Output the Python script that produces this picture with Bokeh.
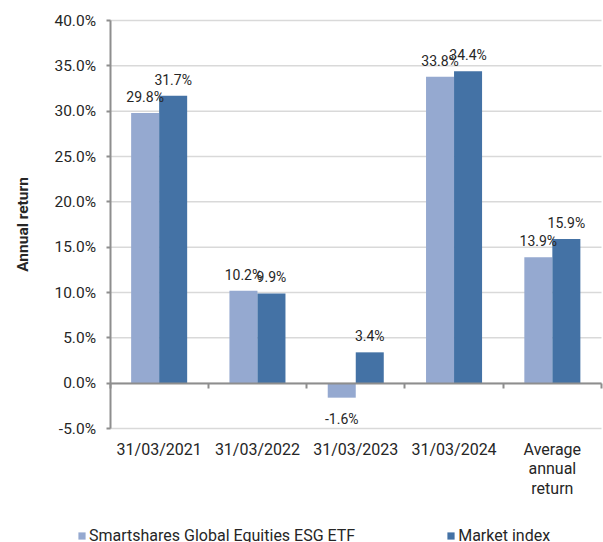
import numpy as np
from bokeh.plotting import figure
from bokeh.models import (ColumnDataSource, Range1d, LinearAxis, FixedTicker,
                          PrintfTickFormatter, Legend, LegendItem)
from bokeh.transform import dodge
from bokeh.core.properties import value
from bokeh.embed import file_html
from bokeh.resources import INLINE

# ---------------- data ----------------
categories = ["31/03/2021", "31/03/2022", "31/03/2023", "31/03/2024", "Average\nannual\nreturn"]
etf_returns = [29.8, 10.2, -1.6, 33.8, 13.9]
index_returns = [31.7, 9.9, 3.4, 34.4, 15.9]
series_names = ["Smartshares Global Equities ESG ETF", "Market index"]
y_ticks = [-5, 0, 5, 10, 15, 20, 25, 30, 35, 40]

# ---------------- style / layout ----------------
FONT = "Roboto"
LIGHT = "#95A9D0"
DARK = "#4472A5"
TXT = "#262626"
AXIS = "#8E8E8E"
GRID = "#D9D9D9"
BAR_W = 0.285
W, H = 603, 542
PL, PR, PT, PB = 109.5, 601, 20, 428   # plotting-area edges in canvas pixels

n = len(categories)
centers = [i + 0.5 for i in range(n)]
cw = (PR - PL) / n
ymin, ymax = y_ticks[0], y_ticks[-1]
ppu = (PB - PT) / (ymax - ymin)

src = ColumnDataSource(dict(x=centers, etf=etf_returns, idx=index_returns))

p = figure(width=W, height=H, output_backend="svg", toolbar_location=None,
           x_range=Range1d(-PL / cw, n + (W - PR) / cw),
           y_range=Range1d(ymin - (H - PB) / ppu, ymax + PT / ppu),
           min_border=0)
p.outline_line_color = None
p.background_fill_color = "white"
p.border_fill_color = "white"
p.grid.visible = False

# horizontal gridlines limited to the plotting area
p.segment(x0=0, x1=n, y0=y_ticks, y1=y_ticks, line_color=GRID, line_width=1.5,
          level="underlay")

r1 = p.vbar(x=dodge("x", -BAR_W / 2, range=p.x_range), top="etf", bottom=0, width=BAR_W,
            source=src, fill_color=LIGHT, line_color=None)
r2 = p.vbar(x=dodge("x", BAR_W / 2, range=p.x_range), top="idx", bottom=0, width=BAR_W,
            source=src, fill_color=DARK, line_color=None)

# data labels
def add_labels(vals, offset):
    pos = [(c, v) for c, v in zip(centers, vals) if v >= 0]
    neg = [(c, v) for c, v in zip(centers, vals) if v < 0]
    for group, yoff in ((pos, -16), (neg, 21)):
        if not group:
            continue
        s = ColumnDataSource(dict(x=[g[0] for g in group], y=[g[1] for g in group],
                                  t=[f"{g[1]:.1f}%" for g in group]))
        p.text(x=dodge("x", offset, range=p.x_range), y="y", text="t", source=s,
               text_font=value(FONT), text_font_size="14px", text_color=TXT,
               text_align="center", text_baseline="alphabetic", y_offset=yoff)

add_labels(etf_returns, -BAR_W / 2)
add_labels(index_returns, BAR_W / 2)

# y axis at the left edge of the plotting area
yax = p.yaxis[0]
yax.fixed_location = 0
yax.bounds = (ymin, ymax)
yax.ticker = FixedTicker(ticks=y_ticks)
yax.formatter = PrintfTickFormatter(format="%.1f%%")
yax.axis_line_color = AXIS
yax.axis_line_width = 2
yax.major_tick_line_color = AXIS
yax.major_tick_line_width = 2
yax.major_tick_out = 4
yax.major_tick_in = 0
yax.minor_tick_line_color = None
yax.major_label_text_font = FONT
yax.major_label_text_font_size = "15.5px"
yax.major_label_text_color = TXT
yax.major_label_standoff = 10
yax.axis_label = "Annual return"
yax.axis_label_text_font = FONT
yax.axis_label_text_font_size = "15.5px"
yax.axis_label_text_font_style = "bold"
yax.axis_label_text_color = TXT
yax.axis_label_standoff = 20

# category labels under the bottom of the plotting area
xax = p.xaxis[0]
xax.fixed_location = ymin
xax.ticker = FixedTicker(ticks=centers)
xax.major_label_overrides = {c: lab for c, lab in zip(centers, categories)}
xax.axis_line_color = None
xax.major_tick_line_color = None
xax.minor_tick_line_color = None
xax.major_label_text_font = FONT
xax.major_label_text_font_size = "16px"
xax.major_label_text_color = TXT
xax.major_label_text_line_height = 1.03
xax.major_label_standoff = 5

# zero line axis with category boundary ticks
zax = LinearAxis(fixed_location=0, bounds=(0, n), ticker=FixedTicker(ticks=list(range(n + 1))))
zax.axis_line_color = AXIS
zax.axis_line_width = 2
zax.major_tick_line_color = AXIS
zax.major_tick_line_width = 2
zax.major_tick_out = 5
zax.major_tick_in = 0
zax.minor_tick_line_color = None
zax.major_label_text_font_size = "0px"
p.add_layout(zax, "below")

# legend at the bottom of the canvas
legend = Legend(items=[LegendItem(label=series_names[0], renderers=[r1]),
                       LegendItem(label=series_names[1], renderers=[r2])],
                location=(77, -3), orientation="horizontal",
                label_text_font=FONT, label_text_font_size="16px", label_text_color=TXT,
                glyph_width=9, glyph_height=9, label_standoff=3, label_width=20,
                spacing=91, padding=0, margin=0, border_line_color=None,
                background_fill_alpha=0)
p.add_layout(legend, "center")

open("out.html", "w").write(file_html(p, INLINE))
